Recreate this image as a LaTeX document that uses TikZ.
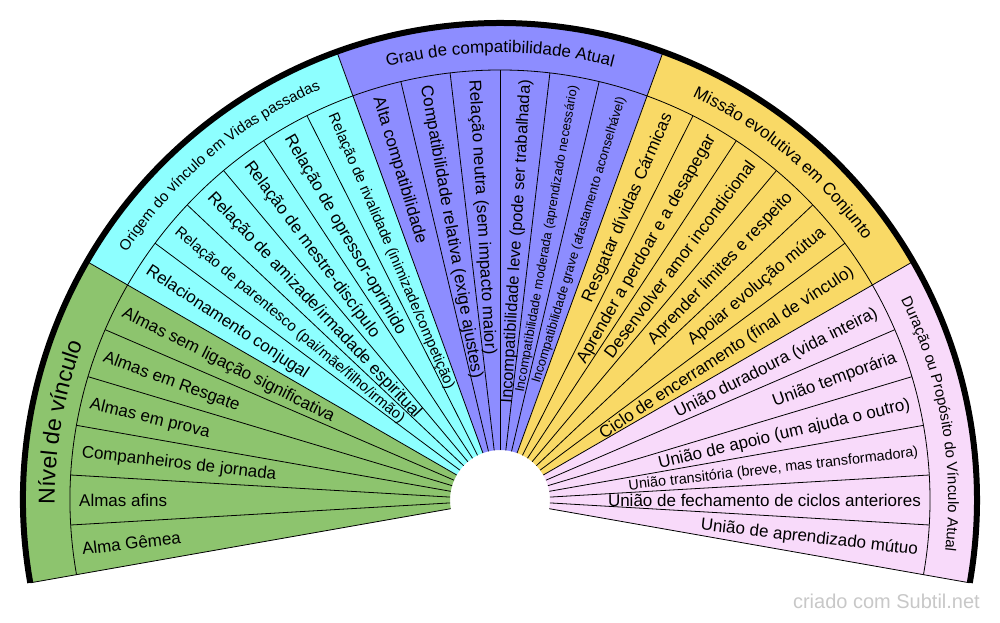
\documentclass[tikz,border=0pt]{standalone}
\usepackage{fontspec}
\setmainfont{Liberation Sans}
\usetikzlibrary{decorations.text}
\definecolor{cgreen}{RGB}{141,196,110}
\definecolor{ccyan}{RGB}{141,255,255}
\definecolor{cblue}{RGB}{141,141,255}
\definecolor{cyellow}{RGB}{249,217,102}
\definecolor{cpink}{RGB}{248,218,250}
\definecolor{cwm}{RGB}{200,200,200}
\tikzset{
  divider/.style={black, line width=0.8pt},
  rim/.style={black, line width=6pt},
  itemtxt/.style={inner sep=0pt, text depth=0pt},
  watermark/.style={inner sep=0pt, anchor=base east, text=cwm, font=\fontsize{20}{20}\selectfont},
}
\newcommand\wedgelabel[4]{%
  \pgfmathsetmacro\wang{190-(#2+0.5)*20/3}%
  \pgfmathsetmacro\wth{0.72*#3}%
  \pgfmathtruncatemacro\wleft{\wang>90 ? 1 : 0}%
  \ifnum\wleft=1
    \pgfmathsetmacro\wrot{\wang-180}%
    \node[itemtxt, anchor=west, rotate=\wrot, text height=\wth pt, font=\fontsize{#3}{#3}\selectfont] (#1) at (\wang:421pt) {#4};%
  \else
    \node[itemtxt, anchor=east, rotate=\wang, text height=\wth pt, font=\fontsize{#3}{#3}\selectfont] (#1) at (\wang:421pt) {#4};%
  \fi}
\newcommand\hdrfont{\fontsize{\hdrsize}{\hdrsize}\selectfont}
\newcommand\grouphead[3]{%
  \pgfmathsetmacro\aone{190-40*#1}%
  \pgfmathsetmacro\atwo{150-40*#1}%
  \pgfmathsetmacro\hrb{453.5-0.36*#2}%
  \def\hdrsize{#2}%
  \path[decorate, decoration={text along path, text align=center, text={|\hdrfont|#3}}]
    (\aone:\hrb pt) arc[start angle=\aone, end angle=\atwo, radius=\hrb pt];}
\begin{document}
\begin{tikzpicture}[x=1pt,y=1pt]
\fill[white] (0,0) rectangle (1000,622);
\useasboundingbox (0,0) rectangle (1000,622);
\begin{scope}[shift={(500,122)}]
  \foreach \g/\c in {0/cgreen,1/ccyan,2/cblue,3/cyellow,4/cpink}{
    \pgfmathsetmacro\aone{190-40*\g}
    \pgfmathsetmacro\atwo{150-40*\g}
    \fill[\c] (\aone:50pt) arc[start angle=\aone, end angle=\atwo, radius=50pt]
      -- (\atwo:477pt) arc[start angle=\atwo, end angle=\aone, radius=477pt] -- cycle;
  }
  \foreach \k in {0,...,30}{
    \pgfmathsetmacro\la{190-\k*20/3}
    \pgfmathtruncatemacro\isg{mod(\k,6)==0 ? 1 : 0}
    \ifnum\isg=1 \def\ro{477}\else\def\ro{430}\fi
    \draw[divider] (\la:50pt) -- (\la:\ro pt);
  }
  \draw[divider] (190:430pt) arc[start angle=190, end angle=-10, radius=430pt];
  \draw[rim] (190:477pt) arc[start angle=190, end angle=-10, radius=477pt];

  \wedgelabel{g0}{0}{17}{Alma Gêmea}
  \wedgelabel{g1}{1}{17}{Almas afins}
  \wedgelabel{g2}{2}{17}{Companheiros de jornada}
  \wedgelabel{g3}{3}{17}{Almas em prova}
  \wedgelabel{g4}{4}{17}{Almas em Resgate}
  \wedgelabel{g5}{5}{17}{Almas sem ligação significativa}
  \wedgelabel{c0}{6}{17}{Relacionamento conjugal}
  \wedgelabel{c1}{7}{15}{Relação de parentesco (pai/mãe/filho/irmão)}
  \wedgelabel{c2}{8}{17}{Relação de amizade/irmadade espiritual}
  \wedgelabel{c3}{9}{17}{Relação de mestre-discípulo}
  \wedgelabel{c4}{10}{17}{Relação de opressor-oprimido}
  \wedgelabel{c5}{11}{14.8}{Relação de rivalidade (inimizade/competição)}
  \wedgelabel{b0}{12}{17}{Alta compatibilidade}
  \wedgelabel{b1}{13}{17}{Compatibilidade relativa (exige ajustes)}
  \wedgelabel{b2}{14}{17}{Relação neutra (sem impacto maior)}
  \wedgelabel{b3}{15}{16.4}{Incompatibilidade leve (pode ser trabalhada)}
  \wedgelabel{b4}{16}{12.9}{Incompatibilidade moderada (aprendizado necessário)}
  \wedgelabel{b5}{17}{12.9}{Incompatibilidade grave (afastamento aconselhável)}
  \wedgelabel{y0}{18}{17}{Resgatar dívidas Cármicas}
  \wedgelabel{y1}{19}{17}{Aprender a perdoar e a desapegar}
  \wedgelabel{y2}{20}{17}{Desenvolver amor incondicional}
  \wedgelabel{y3}{21}{17}{Aprender limites e respeito}
  \wedgelabel{y4}{22}{17}{Apoiar evolução mútua}
  \wedgelabel{y5}{23}{17}{Ciclo de encerramento (final de vínculo)}
  \wedgelabel{p0}{24}{17}{União duradoura (vida inteira)}
  \wedgelabel{p1}{25}{17}{União temporária}
  \wedgelabel{p2}{26}{17}{União de apoio (um ajuda o outro)}
  \wedgelabel{p3}{27}{14.4}{União transitória (breve, mas transformadora)}
  \wedgelabel{p4}{28}{17}{União de fechamento de ciclos anteriores}
  \wedgelabel{p5}{29}{17}{União de aprendizado mútuo}

  \grouphead{0}{23}{Nível de vínculo}
  \grouphead{1}{15}{Origem do vínculo em Vidas passadas}
  \grouphead{2}{17}{Grau de compatibilidade Atual}
  \grouphead{3}{17}{Missão evolutiva em Conjunto}
  \grouphead{4}{15}{Duração ou Propósito do Vínculo Atual}
\end{scope}
\node[watermark] (wm) at (980,14) {criado com Subtil.net};
\end{tikzpicture}
\end{document}
